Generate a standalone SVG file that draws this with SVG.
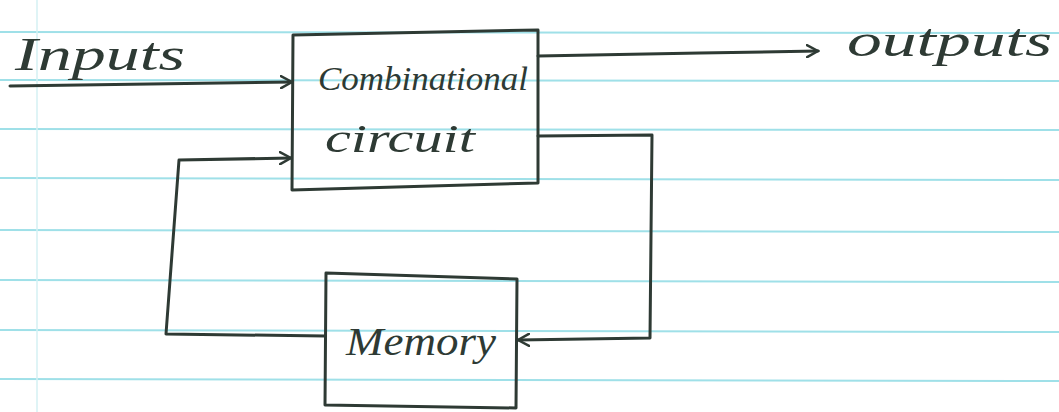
<svg xmlns="http://www.w3.org/2000/svg" width="1059" height="412" viewBox="0 0 1059 412">
<style>
.rule{stroke:#9fe0e8;stroke-width:2}
.ink{fill:none;stroke:#2e3a34;stroke-width:3;stroke-linecap:round;stroke-linejoin:round}
.t{font-family:"Liberation Serif",serif;font-style:italic;fill:#2e3a34}
</style>
<defs>
<marker id="ah" viewBox="0 0 14 14" refX="12" refY="7" markerWidth="14" markerHeight="14" markerUnits="userSpaceOnUse" orient="auto">
<path d="M1,1 L12,7 L1,13" fill="none" stroke="#2e3a34" stroke-width="2.5" stroke-linecap="round"/>
</marker>
</defs>
<rect width="1059" height="412" fill="#ffffff"/>
<g id="paper">
<line class="rule" x1="0" y1="32" x2="1059" y2="33"/>
<line class="rule" x1="0" y1="80" x2="1059" y2="81"/>
<line class="rule" x1="0" y1="129" x2="1059" y2="130"/>
<line class="rule" x1="0" y1="178" x2="1059" y2="180"/>
<line class="rule" x1="0" y1="230" x2="1059" y2="232"/>
<line class="rule" x1="0" y1="280" x2="1059" y2="282"/>
<line class="rule" x1="0" y1="330" x2="1059" y2="332"/>
<line class="rule" x1="0" y1="379" x2="1059" y2="381"/>
<line x1="37" y1="0" x2="37" y2="412" stroke="#d4f0f3" stroke-width="1.5"/>
</g>
<g id="combinational">
<path class="ink" d="M293,35 L538,30 L538,183 L292,190 Z"/>
<text class="t" x="318" y="90" font-size="34" textLength="210" lengthAdjust="spacingAndGlyphs">Combinational</text>
<text class="t" x="325" y="152" font-size="40" textLength="150" lengthAdjust="spacingAndGlyphs">circuit</text>
</g>
<g id="memory">
<path class="ink" d="M326,273 L517,279 L516,408 L325,405 Z"/>
<text class="t" x="346" y="355" font-size="40" textLength="150" lengthAdjust="spacingAndGlyphs">Memory</text>
</g>
<g id="labels">
<text class="t" x="15" y="70" font-size="46" textLength="170" lengthAdjust="spacingAndGlyphs">Inputs</text>
<text class="t" x="847" y="56" font-size="46" textLength="205" lengthAdjust="spacingAndGlyphs">outputs</text>
</g>
<g id="connectors">
<path class="ink" d="M10,86 L150,84 L292,82" marker-end="url(#ah)"/>
<path class="ink" d="M538,56 L700,53 L818,51" marker-end="url(#ah)"/>
<path class="ink" d="M538,136 L652,135 L650,338 L518,340" marker-end="url(#ah)"/>
<path class="ink" d="M325,336 L166,334 L179,160 L291,158" marker-end="url(#ah)"/>
</g>
</svg>
